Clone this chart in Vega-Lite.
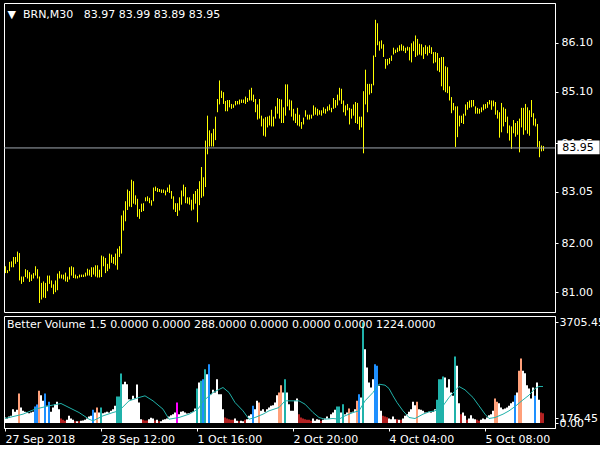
{
  "$schema": "https://vega.github.io/schema/vega-lite/v6.json",
  "background": "#000000",
  "padding": {"left": 2, "top": 2, "right": 0, "bottom": 0},
  "spacing": 2,
  "config": {
    "view": {"stroke": "#ffffff", "strokeWidth": 1},
    "axis": {"labelFont": "DejaVu Sans", "labelFontSize": 11, "labelColor": "#ffffff", "tickColor": "#ffffff", "domainColor": "#ffffff", "grid": false, "title": null, "tickSize": 3, "labelOverlap": false, "labelFlush": false, "labelBound": false},
    "title": {"font": "DejaVu Sans", "fontSize": 11, "fontWeight": "normal", "color": "#ffffff", "anchor": "start", "baseline": "middle"}
  },
  "datasets": {
    "bars": [
      {"i":0,"h":81.53,"l":81.39,"v":203,"c":"w"},{"i":1,"h":81.45,"l":81.39,"v":166,"c":"w"},{"i":2,"h":81.62,"l":81.43,"v":240,"c":"w"},{"i":3,"h":81.63,"l":81.51,"v":264,"c":"w"},{"i":4,"h":81.72,"l":81.51,"v":510,"c":"w"},{"i":5,"h":81.72,"l":81.58,"v":412,"c":"w"},{"i":6,"h":81.83,"l":81.62,"v":485,"c":"w"},{"i":7,"h":81.80,"l":81.24,"v":1088,"c":"s"},{"i":8,"h":81.32,"l":81.17,"v":571,"c":"w"},{"i":9,"h":81.32,"l":81.21,"v":449,"c":"w"},
      {"i":10,"h":81.47,"l":81.31,"v":412,"c":"w"},{"i":11,"h":81.45,"l":81.28,"v":387,"c":"w"},{"i":12,"h":81.41,"l":81.21,"v":362,"c":"w"},{"i":13,"h":81.36,"l":81.23,"v":387,"c":"w"},{"i":14,"h":81.39,"l":81.28,"v":412,"c":"w"},{"i":15,"h":81.53,"l":81.34,"v":608,"c":"b"},{"i":16,"h":81.47,"l":81.28,"v":682,"c":"b"},{"i":17,"h":81.32,"l":80.78,"v":1186,"c":"s"},{"i":18,"h":81.19,"l":80.85,"v":1026,"c":"w"},{"i":19,"h":81.22,"l":80.89,"v":817,"c":"w"},
      {"i":20,"h":81.19,"l":80.88,"v":1088,"c":"b"},{"i":21,"h":81.34,"l":81.02,"v":633,"c":"w"},{"i":22,"h":81.34,"l":81.17,"v":780,"c":"b"},{"i":23,"h":81.24,"l":81.09,"v":412,"c":"w"},{"i":24,"h":81.16,"l":80.96,"v":571,"c":"w"},{"i":25,"h":81.24,"l":81.00,"v":694,"c":"w"},{"i":26,"h":81.38,"l":81.04,"v":780,"c":"w"},{"i":27,"h":81.43,"l":81.28,"v":510,"c":"w"},{"i":28,"h":81.36,"l":81.28,"v":166,"c":"r"},{"i":29,"h":81.36,"l":81.26,"v":117,"c":"r"},
      {"i":30,"h":81.40,"l":81.22,"v":80,"c":"r"},{"i":31,"h":81.32,"l":81.21,"v":117,"c":"w"},{"i":32,"h":81.51,"l":81.26,"v":264,"c":"w"},{"i":33,"h":81.53,"l":81.34,"v":166,"c":"w"},{"i":34,"h":81.51,"l":81.29,"v":117,"c":"w"},{"i":35,"h":81.36,"l":81.28,"v":68,"c":"r"},{"i":36,"h":81.33,"l":81.28,"v":68,"c":"w"},{"i":37,"h":81.36,"l":81.30,"v":68,"c":"r"},{"i":38,"h":81.36,"l":81.31,"v":80,"c":"w"},{"i":39,"h":81.36,"l":81.31,"v":92,"c":"w"},
      {"i":40,"h":81.40,"l":81.32,"v":117,"c":"w"},{"i":41,"h":81.48,"l":81.34,"v":166,"c":"w"},{"i":42,"h":81.46,"l":81.34,"v":240,"c":"w"},{"i":43,"h":81.51,"l":81.31,"v":264,"c":"w"},{"i":44,"h":81.51,"l":81.36,"v":485,"c":"b"},{"i":45,"h":81.55,"l":81.32,"v":387,"c":"w"},{"i":46,"h":81.55,"l":81.30,"v":571,"c":"s"},{"i":47,"h":81.46,"l":81.30,"v":387,"c":"w"},{"i":48,"h":81.75,"l":81.31,"v":571,"c":"t"},{"i":49,"h":81.73,"l":81.53,"v":362,"c":"w"},
      {"i":50,"h":81.70,"l":81.39,"v":387,"c":"w"},{"i":51,"h":81.58,"l":81.43,"v":412,"c":"w"},{"i":52,"h":81.79,"l":81.48,"v":387,"c":"w"},{"i":53,"h":81.77,"l":81.60,"v":449,"c":"w"},{"i":54,"h":81.72,"l":81.58,"v":510,"c":"w"},{"i":55,"h":81.79,"l":81.55,"v":633,"c":"w"},{"i":56,"h":81.89,"l":81.46,"v":977,"c":"t"},{"i":57,"h":81.94,"l":81.72,"v":977,"c":"t"},{"i":58,"h":82.57,"l":81.79,"v":1825,"c":"t"},{"i":59,"h":82.67,"l":82.26,"v":1432,"c":"w"},
      {"i":60,"h":82.86,"l":82.45,"v":1518,"c":"w"},{"i":61,"h":83.10,"l":82.68,"v":1432,"c":"w"},{"i":62,"h":83.07,"l":82.75,"v":879,"c":"w"},{"i":63,"h":83.30,"l":82.74,"v":854,"c":"w"},{"i":64,"h":83.27,"l":82.81,"v":1002,"c":"w"},{"i":65,"h":82.98,"l":82.79,"v":903,"c":"w"},{"i":66,"h":82.91,"l":82.54,"v":1420,"c":"w"},{"i":67,"h":82.70,"l":82.50,"v":756,"c":"w"},{"i":68,"h":82.81,"l":82.64,"v":141,"c":"w"},{"i":69,"h":82.82,"l":82.66,"v":117,"c":"r"},
      {"i":70,"h":82.94,"l":82.86,"v":92,"c":"r"},{"i":71,"h":82.96,"l":82.86,"v":92,"c":"r"},{"i":72,"h":82.93,"l":82.82,"v":141,"c":"w"},{"i":73,"h":82.88,"l":82.77,"v":190,"c":"w"},{"i":74,"h":83.14,"l":82.86,"v":166,"c":"w"},{"i":75,"h":83.16,"l":83.07,"v":92,"c":"r"},{"i":76,"h":83.13,"l":83.05,"v":117,"c":"w"},{"i":77,"h":83.11,"l":83.05,"v":68,"c":"r"},{"i":78,"h":83.10,"l":83.03,"v":68,"c":"w"},{"i":79,"h":83.10,"l":83.03,"v":117,"c":"w"},
      {"i":80,"h":83.08,"l":82.98,"v":141,"c":"w"},{"i":81,"h":83.14,"l":83.05,"v":166,"c":"w"},{"i":82,"h":83.20,"l":83.03,"v":240,"c":"w"},{"i":83,"h":83.07,"l":82.91,"v":289,"c":"w"},{"i":84,"h":82.96,"l":82.69,"v":326,"c":"w"},{"i":85,"h":82.82,"l":82.64,"v":387,"c":"w"},{"i":86,"h":82.82,"l":82.56,"v":756,"c":"m"},{"i":87,"h":82.94,"l":82.67,"v":326,"c":"w"},{"i":88,"h":83.08,"l":82.79,"v":412,"c":"w"},{"i":89,"h":83.20,"l":82.96,"v":436,"c":"w"},
      {"i":90,"h":83.15,"l":82.82,"v":387,"c":"w"},{"i":91,"h":82.94,"l":82.81,"v":350,"c":"w"},{"i":92,"h":82.94,"l":82.79,"v":362,"c":"w"},{"i":93,"h":82.89,"l":82.67,"v":387,"c":"w"},{"i":94,"h":83.01,"l":82.69,"v":412,"c":"w"},{"i":95,"h":83.07,"l":82.81,"v":535,"c":"w"},{"i":96,"h":83.11,"l":82.43,"v":1272,"c":"t"},{"i":97,"h":83.27,"l":82.78,"v":1493,"c":"w"},{"i":98,"h":83.56,"l":82.93,"v":1555,"c":"t"},{"i":99,"h":83.35,"l":82.96,"v":1616,"c":"b"},
      {"i":100,"h":84.10,"l":83.15,"v":1985,"c":"t"},{"i":101,"h":84.61,"l":83.82,"v":1800,"c":"w"},{"i":102,"h":84.31,"l":83.98,"v":2169,"c":"b"},{"i":103,"h":84.25,"l":83.98,"v":1063,"c":"w"},{"i":104,"h":84.34,"l":83.98,"v":1223,"c":"w"},{"i":105,"h":84.59,"l":84.11,"v":1125,"c":"w"},{"i":106,"h":84.95,"l":84.68,"v":1616,"c":"w"},{"i":107,"h":85.33,"l":84.84,"v":1063,"c":"w"},{"i":108,"h":85.12,"l":84.97,"v":1063,"c":"w"},{"i":109,"h":85.09,"l":84.85,"v":510,"c":"w"},
      {"i":110,"h":84.91,"l":84.70,"v":203,"c":"r"},{"i":111,"h":84.93,"l":84.70,"v":166,"c":"r"},{"i":112,"h":84.93,"l":84.78,"v":141,"c":"r"},{"i":113,"h":84.85,"l":84.75,"v":117,"c":"r"},{"i":114,"h":84.84,"l":84.77,"v":117,"c":"r"},{"i":115,"h":84.91,"l":84.82,"v":166,"c":"w"},{"i":116,"h":84.91,"l":84.84,"v":80,"c":"w"},{"i":117,"h":84.94,"l":84.84,"v":68,"c":"r"},{"i":118,"h":84.94,"l":84.87,"v":80,"c":"w"},{"i":119,"h":84.94,"l":84.87,"v":68,"c":"w"},
      {"i":120,"h":85.00,"l":84.85,"v":117,"c":"r"},{"i":121,"h":84.97,"l":84.89,"v":141,"c":"w"},{"i":122,"h":85.14,"l":84.92,"v":264,"c":"w"},{"i":123,"h":85.18,"l":84.92,"v":326,"c":"w"},{"i":124,"h":85.04,"l":84.89,"v":633,"c":"b"},{"i":125,"h":84.95,"l":84.68,"v":510,"c":"w"},{"i":126,"h":84.84,"l":84.53,"v":817,"c":"w"},{"i":127,"h":84.95,"l":84.55,"v":756,"c":"s"},{"i":128,"h":84.61,"l":84.39,"v":449,"c":"w"},{"i":129,"h":84.55,"l":84.20,"v":510,"c":"w"},
      {"i":130,"h":84.58,"l":84.18,"v":412,"c":"w"},{"i":131,"h":84.59,"l":84.37,"v":510,"c":"w"},{"i":132,"h":84.61,"l":84.41,"v":571,"c":"w"},{"i":133,"h":84.73,"l":84.39,"v":633,"c":"w"},{"i":134,"h":84.59,"l":84.39,"v":657,"c":"w"},{"i":135,"h":84.80,"l":84.55,"v":756,"c":"w"},{"i":136,"h":84.97,"l":84.65,"v":1026,"c":"w"},{"i":137,"h":84.95,"l":84.55,"v":1125,"c":"s"},{"i":138,"h":84.94,"l":84.46,"v":1395,"c":"s"},{"i":139,"h":84.78,"l":84.46,"v":1125,"c":"w"},
      {"i":140,"h":85.25,"l":84.61,"v":1616,"c":"t"},{"i":141,"h":85.25,"l":84.80,"v":1125,"c":"w"},{"i":142,"h":84.94,"l":84.72,"v":694,"c":"w"},{"i":143,"h":84.92,"l":84.59,"v":449,"c":"w"},{"i":144,"h":84.75,"l":84.51,"v":449,"c":"w"},{"i":145,"h":84.65,"l":84.46,"v":817,"c":"w"},{"i":146,"h":84.77,"l":84.41,"v":903,"c":"w"},{"i":147,"h":84.63,"l":84.39,"v":326,"c":"r"},{"i":148,"h":84.48,"l":84.34,"v":203,"c":"r"},{"i":149,"h":84.57,"l":84.43,"v":166,"c":"r"},
      {"i":150,"h":84.72,"l":84.59,"v":141,"c":"r"},{"i":151,"h":84.63,"l":84.53,"v":117,"c":"r"},{"i":152,"h":84.63,"l":84.53,"v":117,"c":"r"},{"i":153,"h":84.63,"l":84.55,"v":80,"c":"r"},{"i":154,"h":84.82,"l":84.61,"v":166,"c":"w"},{"i":155,"h":84.78,"l":84.63,"v":80,"c":"w"},{"i":156,"h":84.75,"l":84.61,"v":141,"c":"w"},{"i":157,"h":84.72,"l":84.63,"v":117,"c":"w"},{"i":158,"h":84.72,"l":84.61,"v":80,"c":"r"},{"i":159,"h":84.78,"l":84.66,"v":117,"c":"w"},
      {"i":160,"h":84.75,"l":84.65,"v":166,"c":"w"},{"i":161,"h":84.80,"l":84.70,"v":240,"c":"w"},{"i":162,"h":84.84,"l":84.72,"v":166,"c":"w"},{"i":163,"h":84.77,"l":84.68,"v":326,"c":"w"},{"i":164,"h":84.97,"l":84.75,"v":387,"c":"w"},{"i":165,"h":84.93,"l":84.77,"v":485,"c":"w"},{"i":166,"h":85.04,"l":84.82,"v":608,"c":"t"},{"i":167,"h":85.18,"l":84.92,"v":608,"c":"t"},{"i":168,"h":85.16,"l":84.85,"v":387,"c":"w"},{"i":169,"h":84.92,"l":84.68,"v":694,"c":"t"},
      {"i":170,"h":84.82,"l":84.61,"v":326,"c":"w"},{"i":171,"h":84.85,"l":84.72,"v":387,"c":"w"},{"i":172,"h":84.77,"l":84.43,"v":535,"c":"s"},{"i":173,"h":84.75,"l":84.55,"v":387,"c":"w"},{"i":174,"h":84.84,"l":84.61,"v":412,"c":"w"},{"i":175,"h":84.89,"l":84.46,"v":510,"c":"w"},{"i":176,"h":84.87,"l":84.44,"v":817,"c":"s"},{"i":177,"h":84.59,"l":84.32,"v":1063,"c":"b"},{"i":178,"h":84.59,"l":84.37,"v":940,"c":"w"},{"i":179,"h":85.11,"l":83.84,"v":3705,"c":"t"},
      {"i":180,"h":85.55,"l":84.84,"v":2722,"c":"w"},{"i":181,"h":85.26,"l":84.68,"v":2046,"c":"w"},{"i":182,"h":85.26,"l":85.04,"v":1493,"c":"w"},{"i":183,"h":85.26,"l":85.07,"v":1309,"c":"w"},{"i":184,"h":85.84,"l":85.23,"v":1616,"c":"w"},{"i":185,"h":86.57,"l":85.81,"v":2169,"c":"b"},{"i":186,"h":86.50,"l":86.05,"v":2108,"c":"b"},{"i":187,"h":86.13,"l":85.94,"v":1370,"c":"w"},{"i":188,"h":86.15,"l":85.98,"v":449,"c":"w"},{"i":189,"h":86.07,"l":85.81,"v":264,"c":"r"},
      {"i":190,"h":85.77,"l":85.57,"v":240,"c":"r"},{"i":191,"h":85.77,"l":85.64,"v":215,"c":"r"},{"i":192,"h":85.79,"l":85.67,"v":166,"c":"w"},{"i":193,"h":85.84,"l":85.73,"v":141,"c":"w"},{"i":194,"h":86.00,"l":85.86,"v":240,"c":"w"},{"i":195,"h":85.96,"l":85.89,"v":141,"c":"w"},{"i":196,"h":86.00,"l":85.91,"v":141,"c":"r"},{"i":197,"h":86.05,"l":85.93,"v":117,"c":"w"},{"i":198,"h":86.07,"l":85.94,"v":117,"c":"r"},{"i":199,"h":86.04,"l":85.93,"v":166,"c":"w"},
      {"i":200,"h":86.00,"l":85.89,"v":264,"c":"w"},{"i":201,"h":86.02,"l":85.94,"v":326,"c":"w"},{"i":202,"h":86.01,"l":85.74,"v":412,"c":"w"},{"i":203,"h":86.09,"l":85.70,"v":510,"c":"w"},{"i":204,"h":86.13,"l":85.93,"v":780,"c":"w"},{"i":205,"h":86.25,"l":85.81,"v":657,"c":"w"},{"i":206,"h":86.18,"l":85.84,"v":780,"c":"s"},{"i":207,"h":86.08,"l":85.86,"v":510,"c":"w"},{"i":208,"h":86.07,"l":85.84,"v":485,"c":"w"},{"i":209,"h":86.01,"l":85.77,"v":449,"c":"w"},
      {"i":210,"h":86.05,"l":85.87,"v":387,"c":"w"},{"i":211,"h":86.02,"l":85.84,"v":387,"c":"w"},{"i":212,"h":86.05,"l":85.89,"v":412,"c":"w"},{"i":213,"h":86.01,"l":85.87,"v":387,"c":"w"},{"i":214,"h":85.91,"l":85.68,"v":412,"c":"w"},{"i":215,"h":85.91,"l":85.70,"v":510,"c":"w"},{"i":216,"h":85.89,"l":85.53,"v":854,"c":"t"},{"i":217,"h":85.79,"l":85.50,"v":1616,"c":"t"},{"i":218,"h":85.81,"l":85.21,"v":1616,"c":"t"},{"i":219,"h":85.81,"l":85.13,"v":1714,"c":"t"},
      {"i":220,"h":85.62,"l":85.09,"v":1678,"c":"w"},{"i":221,"h":85.60,"l":85.07,"v":1309,"c":"w"},{"i":222,"h":85.21,"l":84.92,"v":1616,"c":"w"},{"i":223,"h":84.99,"l":84.66,"v":1125,"c":"w"},{"i":224,"h":84.87,"l":84.72,"v":1002,"c":"w"},{"i":225,"h":84.80,"l":83.97,"v":2452,"c":"t"},{"i":226,"h":84.80,"l":84.17,"v":2108,"c":"w"},{"i":227,"h":84.61,"l":84.39,"v":731,"c":"w"},{"i":228,"h":84.61,"l":84.46,"v":326,"c":"r"},{"i":229,"h":84.65,"l":84.44,"v":387,"c":"w"},
      {"i":230,"h":84.84,"l":84.61,"v":264,"c":"w"},{"i":231,"h":84.89,"l":84.73,"v":117,"c":"r"},{"i":232,"h":84.92,"l":84.77,"v":166,"c":"w"},{"i":233,"h":84.93,"l":84.78,"v":289,"c":"w"},{"i":234,"h":84.93,"l":84.80,"v":166,"c":"w"},{"i":235,"h":84.80,"l":84.65,"v":141,"c":"w"},{"i":236,"h":84.77,"l":84.65,"v":117,"c":"r"},{"i":237,"h":84.75,"l":84.65,"v":80,"c":"r"},{"i":238,"h":84.78,"l":84.68,"v":117,"c":"w"},{"i":239,"h":84.84,"l":84.72,"v":166,"c":"w"},
      {"i":240,"h":84.85,"l":84.75,"v":141,"c":"w"},{"i":241,"h":84.89,"l":84.77,"v":203,"c":"w"},{"i":242,"h":84.93,"l":84.84,"v":289,"c":"w"},{"i":243,"h":84.92,"l":84.73,"v":326,"c":"w"},{"i":244,"h":84.92,"l":84.80,"v":449,"c":"w"},{"i":245,"h":84.89,"l":84.63,"v":903,"c":"s"},{"i":246,"h":84.72,"l":84.55,"v":780,"c":"s"},{"i":247,"h":84.68,"l":84.16,"v":731,"c":"w"},{"i":248,"h":84.87,"l":84.27,"v":571,"c":"w"},{"i":249,"h":84.78,"l":84.39,"v":510,"c":"w"},
      {"i":250,"h":84.75,"l":84.48,"v":535,"c":"w"},{"i":251,"h":84.59,"l":84.25,"v":571,"c":"w"},{"i":252,"h":84.41,"l":84.10,"v":633,"c":"w"},{"i":253,"h":84.39,"l":83.93,"v":731,"c":"w"},{"i":254,"h":84.52,"l":84.25,"v":780,"c":"w"},{"i":255,"h":84.46,"l":84.18,"v":1026,"c":"b"},{"i":256,"h":84.50,"l":84.22,"v":1125,"c":"w"},{"i":257,"h":84.55,"l":83.86,"v":1923,"c":"s"},{"i":258,"h":84.77,"l":84.37,"v":2378,"c":"s"},{"i":259,"h":84.77,"l":84.22,"v":1923,"c":"w"},
      {"i":260,"h":84.85,"l":84.31,"v":1837,"c":"w"},{"i":261,"h":84.78,"l":84.24,"v":1395,"c":"w"},{"i":262,"h":84.72,"l":84.20,"v":1272,"c":"w"},{"i":263,"h":84.93,"l":84.58,"v":903,"c":"w"},{"i":264,"h":84.66,"l":84.41,"v":1309,"c":"w"},{"i":265,"h":84.55,"l":84.39,"v":1002,"c":"b"},{"i":266,"h":84.44,"l":83.97,"v":1493,"c":"w"},{"i":267,"h":84.09,"l":83.76,"v":854,"c":"w"},{"i":268,"h":84.00,"l":83.88,"v":387,"c":"r"},{"i":269,"h":83.99,"l":83.89,"v":362,"c":"r"}
    ],
    "ma": [
      {"i":0,"v":166},{"i":9,"v":326},{"i":15,"v":510},{"i":22,"v":633},{"i":28,"v":719},{"i":32,"v":571},{"i":37,"v":387},{"i":42,"v":141},{"i":44,"v":80},{"i":49,"v":264},{"i":54,"v":387},{"i":57,"v":449},{"i":62,"v":817},{"i":67,"v":940},{"i":70,"v":1002},{"i":74,"v":817},{"i":79,"v":510},{"i":82,"v":141},{"i":87,"v":203},{"i":92,"v":326},{"i":95,"v":449},{"i":97,"v":560},{"i":99,"v":800},{"i":104,"v":1125},{"i":109,"v":1309},{"i":112,"v":1125},{"i":115,"v":756},{"i":119,"v":449},{"i":122,"v":141},{"i":125,"v":203},{"i":129,"v":326},{"i":132,"v":449},{"i":137,"v":571},{"i":140,"v":817},{"i":147,"v":817},{"i":150,"v":694},{"i":154,"v":387},{"i":157,"v":203},{"i":160,"v":141},{"i":164,"v":166},{"i":167,"v":141},{"i":170,"v":264},{"i":174,"v":387},{"i":177,"v":449},{"i":180,"v":817},{"i":184,"v":1125},{"i":187,"v":1432},{"i":190,"v":1395},{"i":192,"v":1272},{"i":194,"v":1002},{"i":196,"v":756},{"i":199,"v":449},{"i":202,"v":203},{"i":205,"v":166},{"i":209,"v":326},{"i":212,"v":412},{"i":215,"v":449},{"i":219,"v":633},{"i":222,"v":940},{"i":225,"v":1186},{"i":227,"v":1346},{"i":230,"v":1223},{"i":234,"v":940},{"i":237,"v":633},{"i":240,"v":326},{"i":242,"v":166},{"i":245,"v":203},{"i":249,"v":326},{"i":252,"v":449},{"i":255,"v":608},{"i":259,"v":854},{"i":262,"v":1026},{"i":265,"v":1272},{"i":267,"v":1346},{"i":269,"v":1346}
    ],
    "last": [{"p": 83.95}]
  },
  "vconcat": [
    {
      "width": 551,
      "height": 309,
      "title": {"text": "▼\u00a0 BRN,M30\u00a0\u00a0 83.97 83.99 83.89 83.95", "offset": -17.4, "dx": 4},
      "layer": [
        {
          "data": {"name": "bars"},
          "mark": {"type": "rule", "color": "#ffff00", "strokeWidth": 1, "xOffset": 0.5},
          "encoding": {
            "x": {"field": "i", "type": "quantitative", "scale": {"domain": [-0.5, 275], "nice": false, "zero": false}, "axis": null},
            "y": {"field": "l", "type": "quantitative", "scale": {"domain": [80.595, 86.914], "nice": false, "zero": false},
                  "axis": {"orient": "right", "values": [81.0, 82.0, 83.05, 84.05, 85.1, 86.1], "format": ".2f", "labelPadding": 3, "labelBaseline": "middle"}},
            "y2": {"field": "h"}
          }
        },
        {
          "data": {"name": "last"},
          "mark": {"type": "rule", "color": "#a0a8b0", "strokeWidth": 1},
          "encoding": {
            "y": {"field": "p", "type": "quantitative", "scale": {"domain": [80.595, 86.914], "nice": false, "zero": false},
                  "axis": {"orient": "right", "values": [81.0, 82.0, 83.05, 84.05, 85.1, 86.1], "format": ".2f", "labelPadding": 3, "labelBaseline": "middle"}}
          }
        },
        {
          "data": {"name": "last"},
          "mark": {"type": "rect", "color": "#ffffff", "clip": false},
          "encoding": {
            "x": {"datum": 276.3, "type": "quantitative", "scale": {"domain": [-0.5, 275], "nice": false, "zero": false}, "axis": null},
            "x2": {"datum": 297.3},
            "y": {"datum": 84.1, "type": "quantitative", "scale": {"domain": [80.595, 86.914], "nice": false, "zero": false},
                  "axis": {"orient": "right", "values": [81.0, 82.0, 83.05, 84.05, 85.1, 86.1], "format": ".2f", "labelPadding": 3, "labelBaseline": "middle"}},
            "y2": {"datum": 83.82}
          }
        },
        {
          "data": {"name": "last"},
          "mark": {"type": "text", "color": "#000000", "font": "DejaVu Sans", "fontSize": 11, "align": "left", "baseline": "middle", "clip": false},
          "encoding": {
            "x": {"datum": 278.6, "type": "quantitative", "scale": {"domain": [-0.5, 275], "nice": false, "zero": false}, "axis": null},
            "y": {"field": "p", "type": "quantitative", "scale": {"domain": [80.595, 86.914], "nice": false, "zero": false},
                  "axis": {"orient": "right", "values": [81.0, 82.0, 83.05, 84.05, 85.1, 86.1], "format": ".2f", "labelPadding": 3, "labelBaseline": "middle"}},
            "text": {"field": "p", "type": "quantitative", "format": ".2f"}
          }
        }
      ]
    },
    {
      "width": 551,
      "height": 112,
      "title": {"text": "Better Volume 1.5 0.0000 0.0000 288.0000 0.0000 0.0000 0.0000 1224.0000", "offset": -13.6, "dx": 4},
      "layer": [
        {
          "data": {"name": "bars"},
          "mark": {"type": "rule", "strokeWidth": 2},
          "encoding": {
            "x": {"field": "i", "type": "quantitative", "scale": {"domain": [-0.5, 275], "nice": false, "zero": false},
                  "axis": {"orient": "bottom", "values": [0, 48, 96, 144, 192, 240], "labelAlign": "left", "labelPadding": 2, "labelBaseline": "top",
                           "labelExpr": "datum.value == 0 ? '27 Sep 2018' : datum.value == 48 ? '28 Sep 12:00' : datum.value == 96 ? '1 Oct 16:00' : datum.value == 144 ? '2 Oct 20:00' : datum.value == 192 ? '4 Oct 04:00' : '5 Oct 08:00'"}},
            "y": {"field": "v", "type": "quantitative", "stack": null, "scale": {"domain": [-184, 3945], "nice": false, "zero": false},
                  "axis": {"orient": "right", "values": [0, 176.45, 3705.45], "format": ".2f", "labelPadding": 1, "labelBaseline": "middle"}},
            "y2": {"datum": 0},
            "color": {"field": "c", "type": "nominal", "legend": null,
                      "scale": {"domain": ["w", "t", "b", "s", "r", "m"], "range": ["#ffffff", "#20b2aa", "#1e90ff", "#ffa07a", "#b22222", "#ff00ff"]}}
          }
        },
        {
          "data": {"name": "ma"},
          "mark": {"type": "line", "color": "#20b2aa", "strokeWidth": 1},
          "encoding": {
            "x": {"field": "i", "type": "quantitative", "scale": {"domain": [-0.5, 275], "nice": false, "zero": false},
                  "axis": {"orient": "bottom", "values": [0, 48, 96, 144, 192, 240], "labelAlign": "left", "labelPadding": 2, "labelBaseline": "top",
                           "labelExpr": "datum.value == 0 ? '27 Sep 2018' : datum.value == 48 ? '28 Sep 12:00' : datum.value == 96 ? '1 Oct 16:00' : datum.value == 144 ? '2 Oct 20:00' : datum.value == 192 ? '4 Oct 04:00' : '5 Oct 08:00'"}},
            "y": {"field": "v", "type": "quantitative", "scale": {"domain": [-184, 3945], "nice": false, "zero": false},
                  "axis": {"orient": "right", "values": [0, 176.45, 3705.45], "format": ".2f", "labelPadding": 1, "labelBaseline": "middle"}}
          }
        }
      ]
    }
  ]
}
